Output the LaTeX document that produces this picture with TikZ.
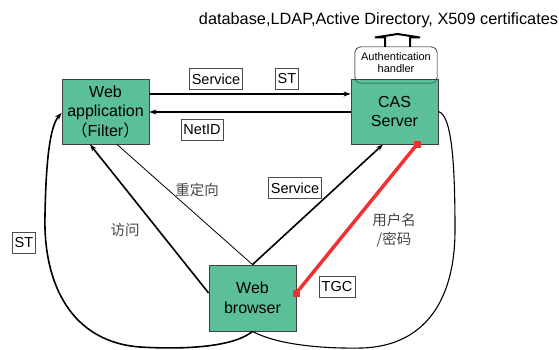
\documentclass[tikz,border=0pt]{standalone}
\usepackage{fontspec}
\setmainfont{Liberation Sans}
\newfontfamily\cjk{Noto Sans CJK SC}
\usetikzlibrary{arrows.meta}
\definecolor{boxgreen}{RGB}{91,191,152}
\definecolor{linkred}{RGB}{238,50,50}
\definecolor{zhgray}{RGB}{70,70,70}
\begin{document}
\begin{tikzpicture}[x=1pt,y=-1pt,
  mainbox/.style={draw=black!75,line width=0.8pt,fill=boxgreen,minimum width=87pt,minimum height=65pt,
    align=center,font=\fontsize{16}{19.5}\selectfont,inner sep=0pt},
  tag/.style={draw=black!70,line width=0.6pt,fill=white,font=\fontsize{14.5}{16}\selectfont,inner sep=2.5pt,minimum height=21pt},
  zh/.style={font=\cjk\fontsize{14.5}{19}\selectfont,text=zhgray,align=center},
  arr/.style={-{Stealth[length=7pt,width=5pt]}},
]
\useasboundingbox (0,0) rectangle (559,350);
% authentication handler (behind CAS)
\node (auth) [draw=black!80,fill=white,rounded corners=6pt,minimum width=82pt,minimum height=36pt,inner sep=0pt,
  align=center,font=\fontsize{11}{12}\selectfont,text depth=0pt] at (396,65) {\raisebox{5pt}{\shortstack{Authentication\\handler}}};
\node (web) [mainbox] at (105.5,111.5) {Web\\application\\{\cjk （}Filter{\cjk ）}};
\node (cas) [mainbox] at (394.5,111.5) {CAS\\Server};
\node (br)  [mainbox,minimum height=66pt] at (252.5,298) {Web\\browser};
% handler outline over CAS
\draw[black!80,rounded corners=6pt] (auth.south west) rectangle (auth.north east);
% block arrow up
\coordinate (stemL) at ([xshift=-11pt]auth.north);
\coordinate (stemR) at ([xshift=14pt]auth.north);
\draw[line width=2pt,line join=miter] (stemL) -- (385,37.5) -- (375,37.5) -- (397.5,34) -- (420,37.5) -- (410,37.5) -- (stemR);
\node (db) [font=\fontsize{16.3}{18}\selectfont,anchor=center] at (378.5,20) {database,LDAP,Active Directory, X509 certificates};
% horizontal arrows
\draw[arr,line width=1.5pt] ([yshift=17.5pt]web.east) -- ([yshift=17.5pt]cas.west);
\draw[arr,line width=1.5pt] ([yshift=-0.5pt]cas.west) -- ([yshift=-0.5pt]web.east);
\node (svc1) [tag] at (216,79) {Service};
\node (st1)  [tag] at (287,79) {ST};
\node (net)  [tag] at (202,129.5) {NetID};
% browser links
\draw[arr,line width=1.6pt] ([yshift=5pt]br.west) -- ([xshift=-15.5pt]web.south);
\draw[line width=0.8pt] ([xshift=11.5pt]web.south) -- (br.north);
\draw[arr,line width=1.6pt] (br.north) -- ([xshift=-11.5pt]cas.south);
\draw[linkred,line width=3.5pt] ([yshift=5pt]br.east) -- ([xshift=22.5pt]cas.south);
\fill[linkred] ([yshift=5pt]br.east) ++(-3.5,-3.5) rectangle ++(7,7);
\fill[linkred] ([xshift=22.5pt]cas.south) ++(-3.5,-3.5) rectangle ++(7,7);
\node (svc2) [tag] at (295,188) {Service};
\node (tgc)  [tag] at (337,287) {TGC};
\node (redir) [zh] at (197,190) {重定向};
\node (visit) [zh] at (125,230) {访问};
\node (cred) [zh] at (394,230) {用户名\\/密码};
% big curves
\draw[arr,line width=1.6pt] (br.south) .. controls (235,346) and (190,350) .. (140,347)
  .. controls (72,342) and (43,285) .. (45,215) .. controls (46,160) and (50,126) .. ([yshift=-1.5pt]web.west);
\draw[line width=1.1pt] (br.south) .. controls (272,342) and (310,349) .. (362,348)
  .. controls (425,346) and (455,300) .. (455,230) .. controls (455,165) and (452,115) .. (cas.east);
\node (st2) [tag] at (24,243) {ST};
\end{tikzpicture}
\end{document}
